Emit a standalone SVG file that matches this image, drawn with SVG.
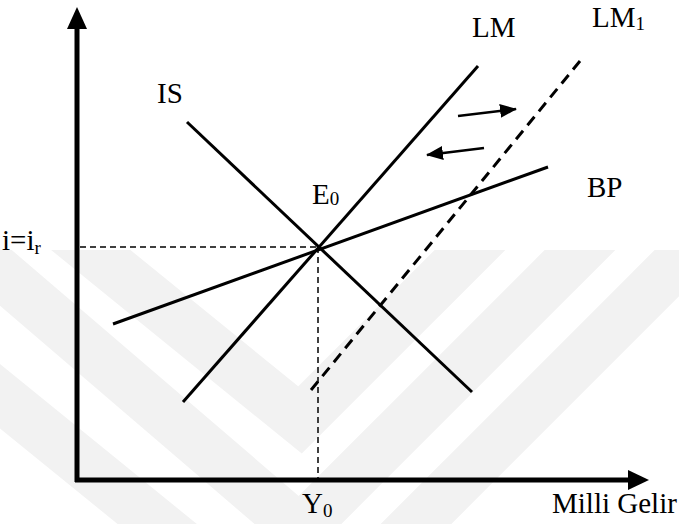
<svg xmlns="http://www.w3.org/2000/svg" width="679" height="524" viewBox="0 0 679 524">
<defs>
<style>
.wm{fill:none;stroke:#f2f2f2;stroke-width:50}
.axis{stroke:#000;stroke-width:5;fill:none}
.curve{stroke:#000;stroke-width:3;fill:none}
.dash{stroke:#000;stroke-width:3;fill:none;stroke-dasharray:11 7}
.guide{stroke:#000;stroke-width:1.5;fill:none;stroke-dasharray:6 4}
.shift{stroke:#000;stroke-width:2.5;fill:none}
text{font-family:"Liberation Serif","Times New Roman",serif;font-size:29px;fill:#000}
.sub{font-size:19px}
</style>
<marker id="ah" markerUnits="userSpaceOnUse" markerWidth="18" markerHeight="14" refX="16" refY="7" orient="auto">
<path d="M0,0 L17,7 L0,14 Z" fill="#000"/>
</marker>
<clipPath id="wmclip"><rect x="0" y="250" width="679" height="274"/></clipPath>
</defs>
<rect width="679" height="524" fill="#fff"/>
<g id="watermark" clip-path="url(#wmclip)">
<polyline class="wm" points="-20,160 300,420 620,100"/>
<polyline class="wm" points="-120,170 300,530 740,90"/>
<polyline class="wm" points="-20,380 300,640 760,180"/>
</g>
<g id="axes">
<line class="axis" x1="77" y1="482" x2="77" y2="26"/>
<polygon points="77,7 67,29 87,29" fill="#000"/>
<line class="axis" x1="75" y1="480" x2="630" y2="480"/>
<polygon points="649,480 628,470 628,490" fill="#000"/>
</g>
<g id="connectors">
<line class="guide" x1="80" y1="247" x2="318" y2="247"/>
<line class="guide" x1="318" y1="247" x2="318" y2="478"/>
<line class="shift" x1="458" y1="116" x2="516" y2="109" marker-end="url(#ah)"/>
<line class="shift" x1="484" y1="148" x2="427" y2="155" marker-end="url(#ah)"/>
</g>
<g id="IS"><line class="curve" x1="187" y1="122" x2="472" y2="392"/><text x="157" y="103">IS</text></g>
<g id="LM"><line class="curve" x1="478" y1="66" x2="183" y2="402"/><text x="472" y="37">LM</text></g>
<g id="LM1"><line class="dash" x1="580" y1="61" x2="307" y2="395"/><text x="592" y="27">LM<tspan class="sub" dy="3">1</tspan></text></g>
<g id="BP"><line class="curve" x1="113" y1="324" x2="548" y2="167"/><text x="587" y="197">BP</text></g>
<g id="E0"><text x="312" y="204">E<tspan class="sub" dy="1">0</tspan></text></g>
<g id="ir"><text x="2" y="250">i=i<tspan class="sub" dy="4">r</tspan></text></g>
<g id="Y0"><text x="302" y="513">Y<tspan class="sub" dy="4">0</tspan></text></g>
<g id="xlabel"><text x="552" y="513">Milli Gelir</text></g>
</svg>
